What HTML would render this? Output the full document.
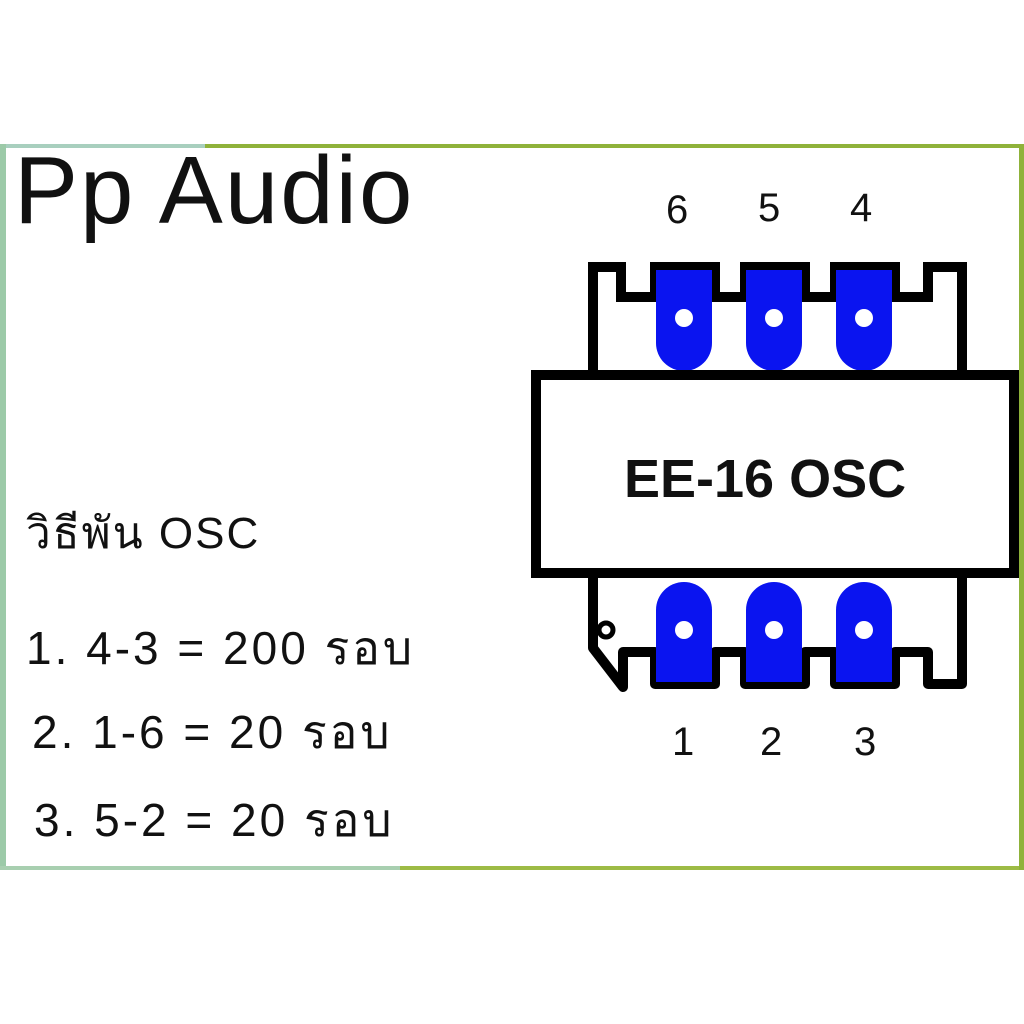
<!DOCTYPE html>
<html><head><meta charset="utf-8"><style>
html,body{margin:0;padding:0;background:#fff;}
body{width:1024px;height:1024px;position:relative;overflow:hidden;}
.t{position:absolute;font-family:"Liberation Sans","Noto Sans CJK SC",sans-serif;color:#111;white-space:nowrap;}
.h{font-family:'Liberation Sans','Noto Sans CJK SC','WenQuanYi Zen Hei',sans-serif;font-size:46px;letter-spacing:3px;}
</style></head><body>
<svg width="1024" height="1024" style="position:absolute;left:0;top:0">
<rect x="0" y="144" width="205" height="4" fill="#a8cfbe"/>
<rect x="205" y="144" width="819" height="4" fill="#8fb23a"/>
<rect x="0" y="144" width="6" height="726" fill="#9ccaa8"/>
<rect x="0" y="866" width="400" height="4" fill="#a8cfb0"/>
<rect x="400" y="866" width="624" height="4" fill="#9dbb45"/>
<rect x="1019" y="144" width="5" height="726" fill="#8fb23a"/>
<path d="M593,372 V267 H621 V297 H655 V267 H715 V297 H745 V267 H805 V297 H835 V267 H895 V297 H928 V267 H962 V372" fill="none" stroke="#000" stroke-width="10"/>
<path d="M593,576 V648 L623,687 V652 H655 V684 H715 V652 H745 V684 H805 V652 H835 V684 H895 V652 H928 V684 H962 V576" fill="none" stroke="#000" stroke-width="10" stroke-linejoin="round"/>
<circle cx="606" cy="630" r="7" fill="none" stroke="#000" stroke-width="5"/>
<g fill="#0a14f0">
<path d="M656,270 H712 V343 A28,28 0 0 1 656,343 Z"/>
<path d="M746,270 H802 V343 A28,28 0 0 1 746,343 Z"/>
<path d="M836,270 H892 V343 A28,28 0 0 1 836,343 Z"/>
<path d="M656,682 H712 V610 A28,28 0 0 0 656,610 Z"/>
<path d="M746,682 H802 V610 A28,28 0 0 0 746,610 Z"/>
<path d="M836,682 H892 V610 A28,28 0 0 0 836,610 Z"/>
</g>
<g fill="#fff">
<circle cx="684" cy="318" r="9"/><circle cx="774" cy="318" r="9"/><circle cx="864" cy="318" r="9"/>
<circle cx="684" cy="630" r="9"/><circle cx="774" cy="630" r="9"/><circle cx="864" cy="630" r="9"/>
</g>
<rect x="536" y="375" width="478" height="198" fill="#fff" stroke="#000" stroke-width="10"/>
</svg>
<div class="t" style="left:624px;top:448px;font-size:54px;font-weight:bold;">EE-16 OSC</div>
<div class="t" style="left:14px;top:136px;font-size:96px;letter-spacing:2px;">Pp Audio</div>
<div class="t" style="left:666px;top:188px;font-size:40px;">6</div>
<div class="t" style="left:758px;top:186px;font-size:40px;">5</div>
<div class="t" style="left:850px;top:186px;font-size:40px;">4</div>
<div class="t" style="left:672px;top:720px;font-size:40px;">1</div>
<div class="t" style="left:760px;top:720px;font-size:40px;">2</div>
<div class="t" style="left:854px;top:720px;font-size:40px;">3</div>
<div class="t h" style="left:26px;top:498px;font-size:44px;letter-spacing:2px;">วิธีพัน OSC</div>
<div class="t h" style="left:26px;top:612px;">1. 4-3 = 200 รอบ</div>
<div class="t h" style="left:32px;top:696px;">2. 1-6 = 20 รอบ</div>
<div class="t h" style="left:34px;top:784px;">3. 5-2 = 20 รอบ</div>
</body></html>
